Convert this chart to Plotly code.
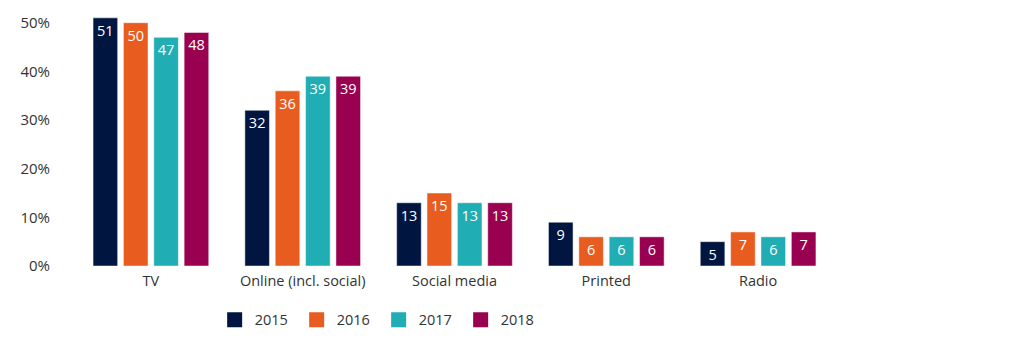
import plotly.graph_objects as go

categories = ["TV", "Online (incl. social)", "Social media", "Printed", "Radio"]
years = ["2015", "2016", "2017", "2018"]
v2015 = [51, 32, 13, 9, 5]
v2016 = [50, 36, 15, 6, 7]
v2017 = [47, 39, 13, 6, 6]
v2018 = [48, 39, 13, 6, 7]
series = [v2015, v2016, v2017, v2018]
colors = ["#001641", "#e95c1f", "#20adb3", "#990050"]
y_ticks = [0, 10, 20, 30, 40, 50]
y_labels = ["0%", "10%", "20%", "30%", "40%", "50%"]

FONT = "Open Sans"

fig = go.Figure()
for yr, vals, col in zip(years, series, colors):
    fig.add_trace(go.Bar(
        name=yr, x=categories, y=vals, showlegend=False,
        marker=dict(color=col, line=dict(color="rgba(255,255,255,0.6)", width=0.8)),
        text=[str(v) for v in vals],
        textposition="inside", insidetextanchor="end", textangle=0,
        constraintext="none",
        textfont=dict(color="white", size=14.5, family=FONT),
        hoverinfo="skip",
    ))
# legend entries with larger square swatches
for yr, col in zip(years, colors):
    fig.add_trace(go.Scatter(
        name=yr, x=[None], y=[None], mode="markers",
        marker=dict(symbol="square", size=15, color=col), showlegend=True,
        hoverinfo="skip",
    ))

fig.update_layout(
    width=1024, height=353,
    margin=dict(l=75, r=190, t=13, b=87),
    paper_bgcolor="white", plot_bgcolor="white",
    barmode="group", bargap=0.2, bargroupgap=0.19,
    font=dict(family=FONT, size=14, color="#333333"),
    uniformtext=dict(minsize=14, mode="show"),
    showlegend=True,
    legend=dict(orientation="h", x=0.184, xanchor="left", y=-0.213, yanchor="middle",
                font=dict(size=14.5, color="#333333"), entrywidth=37,
                entrywidthmode="pixels", itemwidth=30, tracegroupgap=0,
                traceorder="normal"),
)
fig.update_xaxes(showgrid=False, showline=False, zeroline=False, ticks="",
                 tickfont=dict(size=14.5, color="#333333"), ticklabelstandoff=4)
fig.update_yaxes(range=[0, 52], tickmode="array", tickvals=y_ticks, ticktext=y_labels,
                 showgrid=False, showline=False, zeroline=False, ticks="",
                 tickfont=dict(size=15, color="#333333"), ticklabelstandoff=24)

fig.write_html("out.html")
